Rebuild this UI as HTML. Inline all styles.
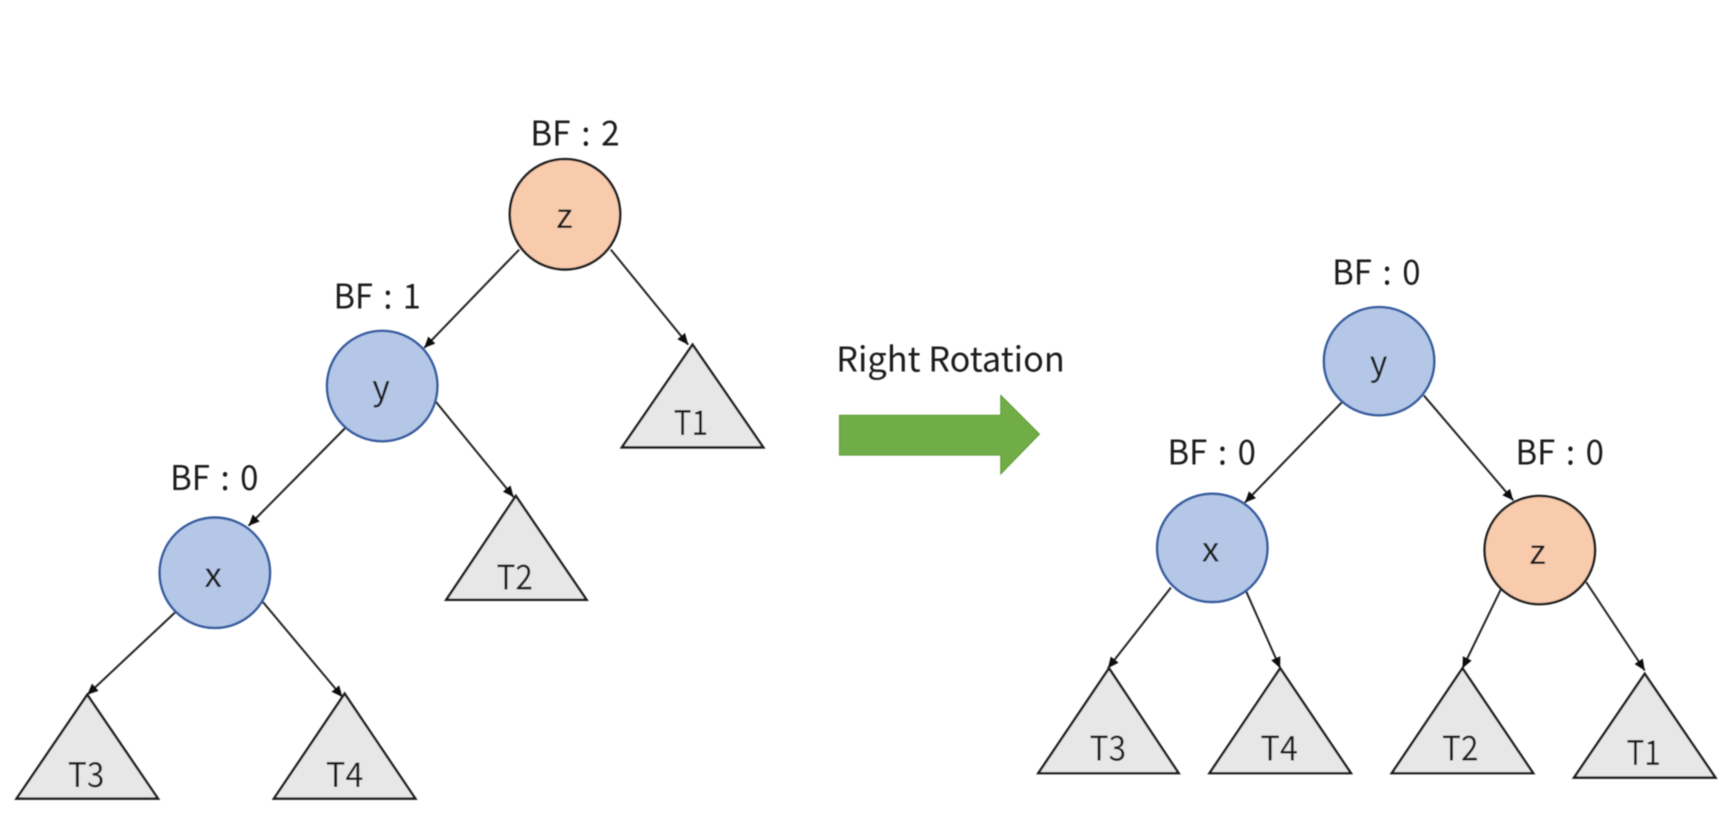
<!DOCTYPE html>
<html>
<head>
<meta charset="utf-8">
<style>
html,body{margin:0;padding:0;background:#fff;width:1732px;height:820px;overflow:hidden}
svg{display:block}
text{font-family:"Noto Sans CJK KR","Liberation Sans",sans-serif;fill:#1a1a1a;font-size:31px;text-anchor:middle}
.bf{word-spacing:3px}
.l{stroke:#222;stroke-width:1.8;fill:none;marker-end:url(#a)}
.t{fill:#e7e7e7;stroke:#1c1c1c;stroke-width:2.2}
.o{fill:#f8cbad;stroke:#1c1c1c;stroke-width:2.2}
.b{fill:#b4c7e7;stroke:#355c9f;stroke-width:2.2}
</style>
</head>
<body>
<svg width="1732" height="820" viewBox="0 0 1568 742.35" xmlns="http://www.w3.org/2000/svg">
<defs>
<marker id="a" markerUnits="userSpaceOnUse" markerWidth="12" markerHeight="10" refX="10" refY="4.5" orient="auto"><path d="M0 0L10 4.5L0 9Z" fill="#111"/></marker>
<filter id="s" x="-2%" y="-2%" width="104%" height="104%"><feGaussianBlur stdDeviation="0.45"/></filter>
</defs>
<g filter="url(#s)">
<path class="l" d="M470 226L384 315"/>
<path class="l" d="M553 226L623 312"/>
<path class="l" d="M314 386L225 476"/>
<path class="l" d="M394 363L465 450"/>
<path class="l" d="M160 553L79 629"/>
<path class="l" d="M238 545L310 631"/>
<path class="l" d="M1215 364L1127 455"/>
<path class="l" d="M1289 358L1370 453"/>
<path class="l" d="M1060 532L1003 605"/>
<path class="l" d="M1128 535L1159 605"/>
<path class="l" d="M1359 533L1324 605"/>
<path class="l" d="M1436 527L1489 607"/>
<circle class="o" cx="511.5" cy="194" r="50"/>
<circle class="b" cx="346" cy="349.5" r="50"/>
<circle class="b" cx="194.5" cy="518.5" r="50"/>
<ellipse class="b" cx="1248.5" cy="327" rx="50" ry="49"/>
<ellipse class="b" cx="1097.5" cy="496" rx="50" ry="49"/>
<ellipse class="o" cx="1394" cy="498" rx="50" ry="49"/>
<path class="t" d="M627 312L691 405H563Z"/>
<path class="t" d="M467 449L531 543H404Z"/>
<path class="t" d="M79 629L143 723H15Z"/>
<path class="t" d="M312 628L376 723H248Z"/>
<path class="t" d="M1004 605L1067 700H940Z"/>
<path class="t" d="M1159 605L1223 700H1095Z"/>
<path class="t" d="M1324 605L1388 700H1260Z"/>
<path class="t" d="M1489 610L1553 704H1425Z"/>
<path d="M760 376H906V358L941 393L906 429V412H760Z" fill="#70ad47" stroke="#639c3e" stroke-width="1"/>
<text class="bf" x="520.5" y="131.5" textLength="81" lengthAdjust="spacingAndGlyphs">BF : 2</text>
<text class="bf" x="341.5" y="279.5" textLength="79" lengthAdjust="spacingAndGlyphs">BF : 1</text>
<text class="bf" x="194" y="443.5" textLength="80" lengthAdjust="spacingAndGlyphs">BF : 0</text>
<text class="bf" x="1246" y="257.5" textLength="80" lengthAdjust="spacingAndGlyphs">BF : 0</text>
<text class="bf" x="1097" y="420.5" textLength="80" lengthAdjust="spacingAndGlyphs">BF : 0</text>
<text class="bf" x="1412" y="420.5" textLength="80" lengthAdjust="spacingAndGlyphs">BF : 0</text>
<text x="860.5" y="336.5" textLength="207" lengthAdjust="spacingAndGlyphs">Right Rotation</text>
<text x="511" y="206.5" textLength="15" lengthAdjust="spacingAndGlyphs">z</text>
<text x="345" y="361.5" textLength="16" lengthAdjust="spacingAndGlyphs">y</text>
<text x="193" y="531.5" textLength="16" lengthAdjust="spacingAndGlyphs">x</text>
<text x="1248" y="339.5" textLength="16" lengthAdjust="spacingAndGlyphs">y</text>
<text x="1096" y="508.5" textLength="16" lengthAdjust="spacingAndGlyphs">x</text>
<text x="1392" y="510.5" textLength="15" lengthAdjust="spacingAndGlyphs">z</text>
<text x="625.5" y="394" textLength="31" lengthAdjust="spacingAndGlyphs">T1</text>
<text x="466" y="533.5" textLength="33" lengthAdjust="spacingAndGlyphs">T2</text>
<text x="78" y="712.5" textLength="33" lengthAdjust="spacingAndGlyphs">T3</text>
<text x="312" y="712.5" textLength="34" lengthAdjust="spacingAndGlyphs">T4</text>
<text x="1003" y="688.5" textLength="33" lengthAdjust="spacingAndGlyphs">T3</text>
<text x="1158" y="688.5" textLength="34" lengthAdjust="spacingAndGlyphs">T4</text>
<text x="1322" y="688.5" textLength="33" lengthAdjust="spacingAndGlyphs">T2</text>
<text x="1488" y="692.5" textLength="31" lengthAdjust="spacingAndGlyphs">T1</text>
</g>
</svg>
</body>
</html>
